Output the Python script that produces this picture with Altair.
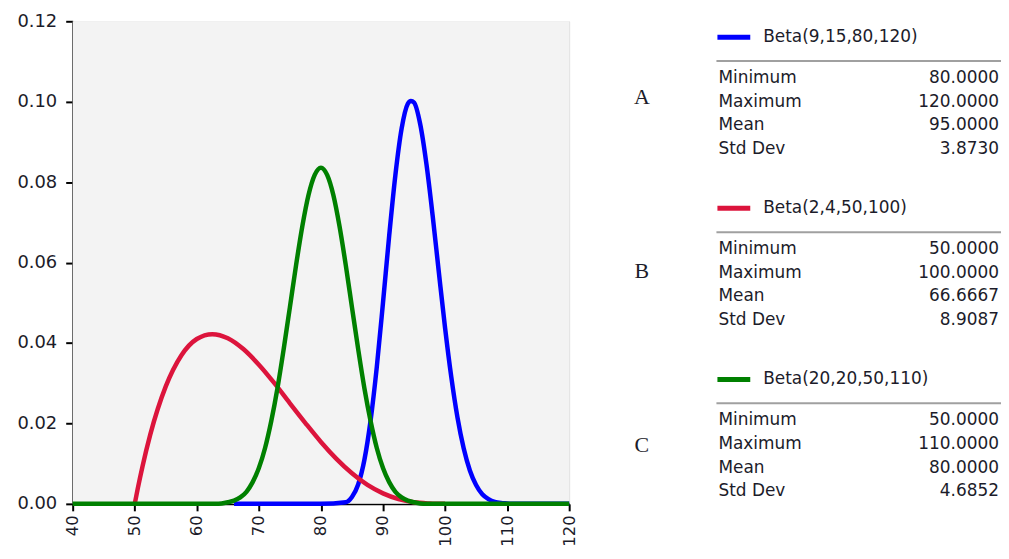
import altair as alt
import pandas as pd

# ---------------- data ----------------
x_ticks = [40, 50, 60, 70, 80, 90, 100, 110, 120]
y_ticks = [0.0, 0.02, 0.04, 0.06, 0.08, 0.10, 0.12]

blue_x = [66, 80, 84, 85, 86, 87, 88, 89, 90, 91, 92, 93, 94, 94.5, 95, 96, 97, 98, 99,
          100, 101, 102, 103, 104, 105, 106, 107, 108, 109, 110, 111, 120]
blue_y = [0.0, 0.0, 0.0004, 0.0017, 0.0048, 0.0109, 0.0207, 0.0340, 0.0500, 0.0667,
          0.0818, 0.0933, 0.0995, 0.1002, 0.0998, 0.0944, 0.0845, 0.0717, 0.0576, 0.0438,
          0.0316, 0.0215, 0.0138, 0.0083, 0.0047, 0.0024, 0.0012, 0.0005, 0.0002,
          0.0001, 0.0, 0.0]

red_x = [50, 50.5, 51.25, 52.5, 55, 57.5, 60, 62.5, 65, 67.5, 70, 72.5, 75, 77.5,
         80, 82.5, 85, 87.5, 90, 92.5, 95, 97.5, 100]
red_y = [0.0, 0.0039, 0.0093, 0.0172, 0.0292, 0.0369, 0.0410, 0.0422, 0.0412, 0.0385,
         0.0346, 0.0300, 0.0250, 0.0201, 0.0154, 0.0112, 0.0076, 0.0047, 0.0026,
         0.0012, 0.0004, 0.0001, 0.0]

green_x = [40, 62, 63, 64, 65, 66, 67, 68, 69, 70, 71, 72, 73, 74, 75, 76, 77, 78, 79,
           80, 81, 82, 83, 84, 85, 86, 87, 88, 89, 90, 91, 92, 93, 94, 95, 96, 97, 98, 120]
green_y = [0.0, 0.0, 0.0, 0.0001, 0.0004, 0.0008, 0.0016, 0.0030, 0.0054, 0.0089,
           0.0139, 0.0206, 0.0288, 0.0385, 0.0489, 0.0594, 0.0690, 0.0768, 0.0818,
           0.0836, 0.0818, 0.0768, 0.0690, 0.0594, 0.0489, 0.0385, 0.0288, 0.0206,
           0.0139, 0.0089, 0.0054, 0.0030, 0.0016, 0.0008, 0.0004, 0.0001, 0.0, 0.0, 0.0]

series_names = ["Beta(9,15,80,120)", "Beta(2,4,50,100)", "Beta(20,20,50,110)"]
series_colors = ["#0000ff", "#dc143c", "#008000"]
block_letters = ["A", "B", "C"]
stat_names = ["Minimum", "Maximum", "Mean", "Std Dev"]
stat_values = [
    ["80.0000", "120.0000", "95.0000", "3.8730"],
    ["50.0000", "100.0000", "66.6667", "8.9087"],
    ["50.0000", "110.0000", "80.0000", "4.6852"],
]

# ---------------- build table ----------------
frames = []
for name, xs, ys in zip(series_names, [blue_x, red_x, green_x], [blue_y, red_y, green_y]):
    frames.append(pd.DataFrame({"s": name, "x": xs, "y": ys}))
df = pd.concat(frames, ignore_index=True)

FONT = "DejaVu Sans"
TXT = "#1c1c2a"
W, H = 499, 485

x_enc = alt.X("x:Q",
              scale=alt.Scale(domain=[40, 120], nice=False, zero=False),
              axis=alt.Axis(values=x_ticks, labelAngle=270, labelFontSize=16.5, labelFont=FONT,
                            labelColor=TXT, tickSize=7, tickWidth=2, tickColor="black",
                            domainColor="black", domainWidth=2, grid=False, title=None,
                            labelPadding=4, labelFlush=False, labelOverlap=False))
y_enc = alt.Y("y:Q",
              scale=alt.Scale(domain=[0, 0.12], nice=False),
              axis=alt.Axis(values=y_ticks, format=".2f", labelFontSize=18, labelFont=FONT,
                            labelColor=TXT, tickSize=7, tickWidth=2, tickColor="black",
                            domainColor="black", domainWidth=2, grid=False, title=None,
                            labelPadding=9, labelFlush=False, labelOverlap=False))

one = alt.Data(values=[{"a": 1}])

# plot-area background
layers = [alt.Chart(one).mark_rect(color="#f3f3f3").encode(
    x=alt.value(0), x2=alt.value(W), y=alt.value(0), y2=alt.value(H))]

base = alt.Chart(df).encode(x=x_enc, y=y_enc)
for name, col in zip(series_names, series_colors):
    layers.append(base.transform_filter(alt.datum.s == name)
                  .mark_line(color=col, strokeWidth=4.5, interpolate="monotone"))


# ---------------- side panel (pixel layout relative to plot origin) ----------------
def txt(s, x, y, **kw):
    return alt.Chart(one).mark_text(text=s, baseline="middle", **kw).encode(
        x=alt.value(x), y=alt.value(y))


def hline(x1, x2, y, color, w):
    return alt.Chart(one).mark_rule(color=color, strokeWidth=w).encode(
        x=alt.value(x1), x2=alt.value(x2), y=alt.value(y))


for k in range(3):
    dy = 172 * k
    layers.append(txt(block_letters[k], 572, 76.5 + 174.5 * k, align="center",
                      font="Liberation Serif", fontSize=22, color=TXT))
    layers.append(hline(648, 681, 16 + dy, series_colors[k], 5))
    layers.append(txt(series_names[k], 694, 16 + dy, align="left", font=FONT,
                      fontSize=17, color=TXT))
    layers.append(hline(647, 940, 40 + dy, "#a0a0a0", 2))
    for i in range(4):
        yy = 57 + 23.8 * i + dy
        layers.append(txt(stat_names[i], 649, yy, align="left", font=FONT,
                          fontSize=17, color=TXT))
        layers.append(txt(stat_values[k][i], 931, yy, align="right", font=FONT,
                          fontSize=17, color=TXT))

chart = alt.layer(*layers).properties(
    width=W, height=H,
    padding={"left": 65, "top": 12, "right": 434, "bottom": 42},
    autosize=alt.AutoSizeParams(type="none"),
).configure_view(strokeOpacity=0).configure(background="white")

chart.save("out.html", embed_options={"renderer": "svg", "actions": False})
